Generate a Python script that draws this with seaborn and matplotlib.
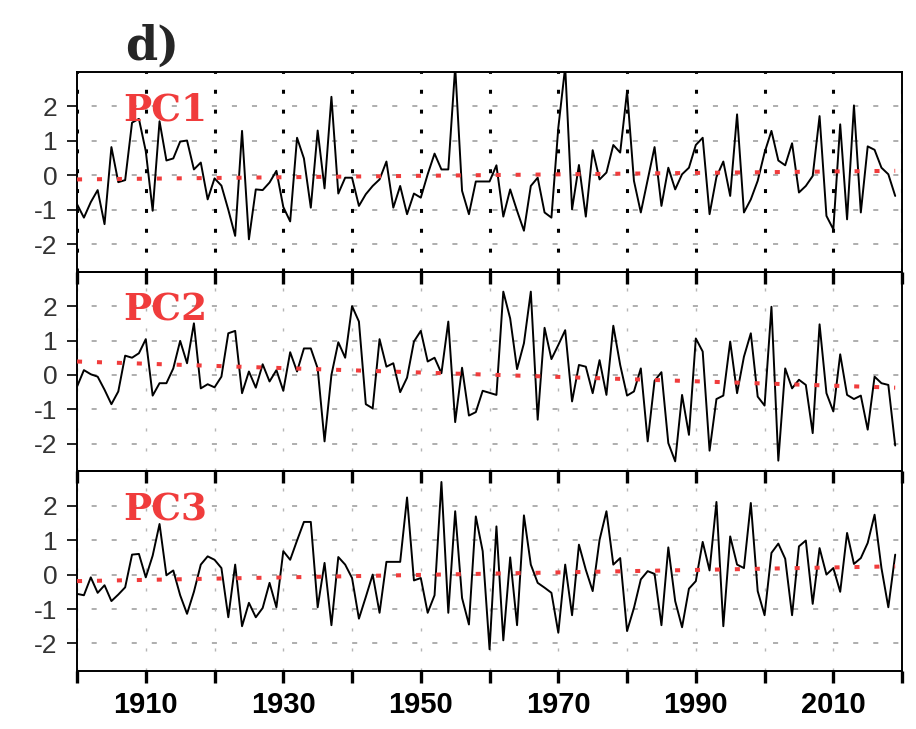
import numpy as np
import pandas as pd
import matplotlib
matplotlib.use("Agg")
import matplotlib.pyplot as plt
import seaborn as sns
from matplotlib import font_manager

# Data (annual PC time series)
years = np.arange(1900, 2020)

pc1 = [-0.84, -1.23, -0.78, -0.43, -1.42, 0.82, -0.20, -0.14, 1.53, 1.64,
       0.70, -1.03, 1.57, 0.43, 0.49, 0.98, 1.01, 0.17, 0.37, -0.70,
       -0.09, -0.30, -1.00, -1.76, 1.29, -1.86, -0.41, -0.43, -0.21, 0.13,
       -0.92, -1.34, 1.09, 0.49, -0.94, 1.30, -0.38, 2.28, -0.53, -0.07,
       -0.07, -0.89, -0.55, -0.31, -0.12, 0.40, -0.94, -0.31, -1.13, -0.53,
       -0.65, 0.03, 0.63, 0.17, 0.17, 3.15, -0.45, -1.13, -0.18, -0.18,
       -0.18, 0.29, -1.20, -0.41, -1.03, -1.61, -0.31, -0.07, -1.08, -1.23,
       1.38, 3.15, -0.99, 0.30, -1.20, 0.73, -0.12, 0.08, 0.88, 0.66,
       2.44, -0.16, -1.08, -0.13, 0.82, -0.89, 0.22, -0.41, 0.03, 0.22,
       0.88, 1.09, -1.13, -0.05, 0.40, -0.60, 1.77, -1.08, -0.70, -0.16,
       0.66, 1.29, 0.43, 0.29, 0.93, -0.50, -0.31, -0.02, 1.72, -1.18,
       -1.57, 1.48, -1.28, 2.03, -1.08, 0.84, 0.74, 0.22, 0.03, -0.60]

pc2 = [-0.34, 0.14, 0.02, -0.05, -0.43, -0.85, -0.48, 0.56, 0.50, 0.63,
       1.04, -0.60, -0.24, -0.24, 0.19, 0.99, 0.34, 1.50, -0.39, -0.27,
       -0.36, -0.05, 1.21, 1.28, -0.53, 0.10, -0.37, 0.31, -0.19, 0.14,
       -0.46, 0.66, 0.10, 0.77, 0.77, 0.19, -1.93, 0.00, 0.95, 0.50,
       2.00, 1.55, -0.85, -0.97, 1.04, 0.24, 0.34, -0.50, -0.08, 0.97,
       1.28, 0.39, 0.50, 0.05, 1.55, -1.37, 0.21, -1.18, -1.08, -0.46,
       -0.52, -0.58, 2.42, 1.64, 0.17, 0.92, 2.42, -1.30, 1.37, 0.46,
       0.87, 1.30, -0.77, 0.29, 0.24, -0.53, 0.43, -0.58, 1.43, 0.29,
       -0.60, -0.48, 0.19, -1.93, -0.17, 0.08, -1.98, -2.51, -0.58, -1.74,
       1.06, 0.68, -2.20, -0.70, -0.60, 0.97, -0.53, 0.53, 1.21, -0.63,
       -0.89, 1.98, -2.49, 0.19, -0.39, -0.14, -0.29, -1.69, 1.47, -0.53,
       -1.06, 0.60, -0.58, -0.70, -0.60, -1.59, -0.05, -0.24, -0.29, -2.05]

pc3 = [-0.56, -0.60, -0.08, -0.53, -0.31, -0.77, -0.58, -0.37, 0.58, 0.60,
       -0.08, 0.55, 1.47, -0.02, 0.12, -0.60, -1.14, -0.50, 0.29, 0.53,
       0.43, 0.19, -1.24, 0.29, -1.50, -0.82, -1.24, -0.97, -0.24, -0.95,
       0.68, 0.43, 0.99, 1.53, 1.53, -0.95, 0.34, -1.47, 0.51, 0.29,
       -0.10, -1.28, -0.65, 0.00, -1.11, 0.37, 0.37, 0.37, 2.24, -0.17,
       -0.10, -1.11, -0.60, 2.69, -1.11, 1.84, -0.68, -1.45, 1.69, 0.68,
       -2.17, 1.40, -1.91, 0.50, -1.47, 1.72, 0.29, -0.24, -0.38, -0.53,
       -1.69, 0.29, -1.18, 0.87, 0.14, -0.48, 1.01, 1.84, 0.29, 0.48,
       -1.64, -0.97, -0.14, 0.10, 0.02, -1.47, 0.79, -0.77, -1.53, -0.41,
       -0.19, 0.95, 0.12, 2.11, -1.50, 1.11, 0.29, 0.19, 2.08, -0.48,
       -1.18, 0.63, 0.90, 0.46, -1.18, 0.82, 0.99, -0.85, 0.77, 0.00,
       0.19, -0.50, 1.21, 0.31, 0.48, 0.92, 1.74, 0.19, -0.95, 0.58]

panel_names = ["PC1", "PC2", "PC3"]
# linear trend end values (first and last year)
trend_start = [-0.12, 0.39, -0.19]
trend_end = [0.13, -0.37, 0.24]

tick_years = np.arange(1900, 2021, 10)
label_years = [1910, 1930, 1950, 1970, 1990, 2010]
y_ticks = [-2, -1, 0, 1, 2]

df = pd.DataFrame({"year": years, "PC1": pc1, "PC2": pc2, "PC3": pc3})

sns.set_theme(style="white")
plt.rcParams["axes.unicode_minus"] = False

installed = {f.name for f in font_manager.fontManager.ttflist}
if "Liberation Sans Narrow" in installed:
    xlab_font, xlab_size = "Liberation Sans Narrow", 25
else:
    xlab_font, xlab_size = "Liberation Sans", 21
ylab_font = "Liberation Sans" if "Liberation Sans" in installed else "DejaVu Sans"

RED = "#f03c3c"

fig, axes = plt.subplots(3, 1, figsize=(9.16, 7.29), dpi=100, sharex=True,
                         gridspec_kw=dict(hspace=0))
fig.subplots_adjust(left=0.0841, right=0.9848, top=0.9012, bottom=0.0796)

for i, (ax, name) in enumerate(zip(axes, panel_names)):
    ax.patch.set_visible(False)

    # grid: grey dashed horizontals, decade verticals
    for yv in y_ticks:
        ax.axhline(yv, color="#a8a8a8", lw=1.3, linestyle=(3, (2.8, 8.3)), zorder=1)
    for xv in tick_years:
        if i == 0:
            ax.axvline(xv, color="black", lw=2.2, linestyle=(0, (1.3, 5.2)), zorder=1)
        else:
            ax.axvline(xv, color="#b5b5b5", lw=1.0, linestyle=(0, (2.2, 12.2)), zorder=1)

    sns.lineplot(data=df, x="year", y=name, ax=ax, color="black", lw=1.4, zorder=3)

    # linear trend
    ax.plot([years[0], years[-1]], [trend_start[i], trend_end[i]], color=RED,
            lw=2.9, linestyle=(0, (1.25, 3.7)), zorder=4)

    ax.text(0.056, 0.755, name, transform=ax.transAxes, color=RED,
            fontsize=27, fontweight="bold", family="DejaVu Serif",
            va="baseline", ha="left", zorder=5)

    ax.set_xlim(1900, 2020)
    ax.set_ylim(-2.8, 3.0)
    ax.set_yticks(y_ticks)
    ax.set_yticklabels([str(v) for v in y_ticks], family=ylab_font,
                       fontsize=19, color="#333333")
    ax.set_xticks(tick_years)
    ax.set_xlabel("")
    ax.set_ylabel("")

    ax.tick_params(axis="x", direction="out", length=8.5, width=2.4,
                   color="black", bottom=True, pad=6)
    ax.tick_params(axis="y", direction="out", length=7, width=1.2,
                   color="black", left=True, pad=7)
    for sp in ax.spines.values():
        sp.set_color("black")
        sp.set_linewidth(1.4)

axes[-1].set_xticklabels([str(y) if y in label_years else "" for y in tick_years],
                         family=xlab_font, fontsize=xlab_size, fontweight="bold",
                         color="black")

fig.text(0.137, 0.918, "d)", fontsize=33, fontweight="bold",
         family="DejaVu Serif", ha="left", va="baseline")

fig.savefig("out.png", dpi=100, facecolor="white")
